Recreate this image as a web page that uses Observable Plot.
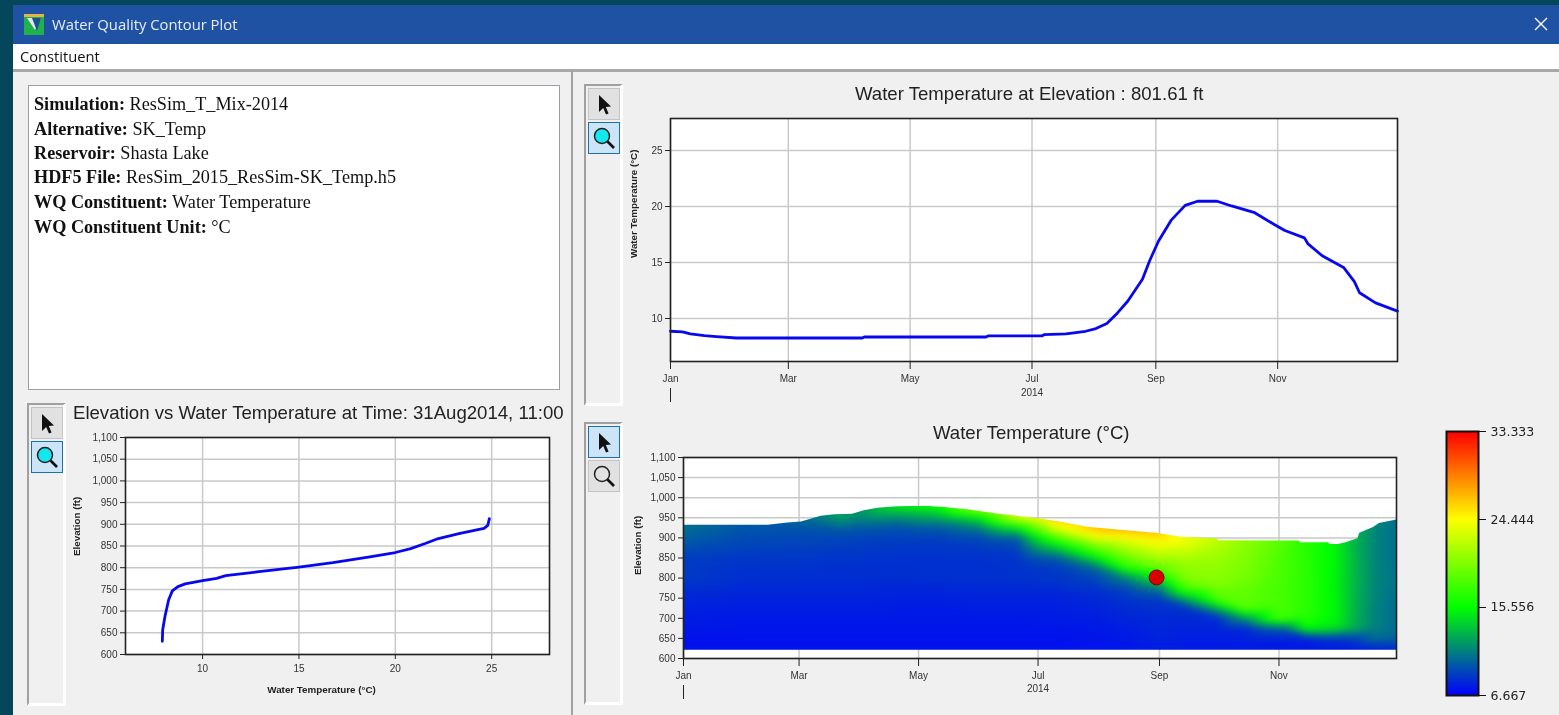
<!DOCTYPE html>
<html><head><meta charset="utf-8">
<script src="https://cdn.jsdelivr.net/npm/d3@7"></script>
<script src="https://cdn.jsdelivr.net/npm/@observablehq/plot@0.6"></script>
<style>
html,body{margin:0;padding:0;width:1559px;height:715px;overflow:hidden;background:#04475a}
.abs{position:absolute}
#page{filter:blur(0.4px)}
#titlebar{left:0;top:1px;width:1546px;height:39px;background:#2052a4;color:#e8eef8;font:14.8px "Open Sans",sans-serif;line-height:39px}
#menu{left:0;top:40px;width:1546px;height:25px;background:#fff;color:#111;font:14.7px "Open Sans",sans-serif;line-height:25px;border-bottom:2px solid #a8a8a8}
.info{left:28px;top:85px;width:530px;height:303px;background:#fff;border:1px solid #9a9fa6;font:18.2px "Liberation Serif",serif;color:#111;box-sizing:content-box}
.info div{position:absolute;left:5px;white-space:nowrap}
.tb{border:2px solid #a0a0a0;border-right:3px solid #fff;border-bottom:3px solid #fff;box-sizing:border-box;width:39px}
.btn{position:absolute;left:2px;width:32px;height:32px;box-sizing:border-box;background:#e1e1e1;border:1px solid #c4c4c4}
.btn.on{background:#cce4f7;border:1.5px solid #1f6fa8}
.btn svg{position:absolute;left:0;top:0}
.ttl{font:18.6px "Liberation Sans",sans-serif;color:#222;white-space:nowrap}
.chart{position:absolute}
</style></head><body>
<div id="page" class="abs" style="left:0;top:0;width:1559px;height:715px">
  <div class="abs" style="left:13px;top:5px;width:1546px;height:710px;background:#f0f0f0"></div>
  <div id="titlebar" class="abs" style="left:13px;top:5px"><span class="abs" style="left:39px;top:0">Water Quality Contour Plot</span>
    <svg class="abs" style="left:11px;top:9px" width="20" height="21"><rect y="3" width="20" height="18" fill="#1fb14a"/><rect width="20" height="3" fill="#e9b14a"/><path d="M3 4L17 4L11 16Z" fill="#dfe6ee"/><path d="M8 4L17 4L13 17Z" fill="#1c4f8f"/></svg>
    <svg class="abs" style="left:1521px;top:12px" width="14" height="14"><path d="M1 1L13 13M13 1L1 13" stroke="#fff" stroke-width="1.4"/></svg>
  </div>
  <div id="menu" class="abs" style="left:13px;top:44px"><span class="abs" style="left:7px">Constituent</span></div>
  <div class="abs" style="left:13px;top:71px;width:1546px;height:1px;background:#a8a8a8"></div>
  <div class="abs" style="left:571px;top:71px;width:2px;height:644px;background:#a0a0a0"></div>
  <div class="abs info">
    <div style="top:8px"><b>Simulation:</b> ResSim_T_Mix-2014</div>
    <div style="top:33px"><b>Alternative:</b> SK_Temp</div>
    <div style="top:57px"><b>Reservoir:</b> Shasta Lake</div>
    <div style="top:81px"><b>HDF5 File:</b> ResSim_2015_ResSim-SK_Temp.h5</div>
    <div style="top:106px"><b>WQ Constituent:</b> Water Temperature</div>
    <div style="top:131px"><b>WQ Constituent Unit:</b> °C</div>
  </div>
  <div class="abs tb" id="tb1" style="left:27px;top:403px;height:303px"></div>
  <div class="abs tb" id="tb2" style="left:584px;top:84px;height:322px"></div>
  <div class="abs tb" id="tb3" style="left:584px;top:422px;height:283px"></div>
  <div class="abs ttl" style="left:73px;top:402px">Elevation vs Water Temperature at Time: 31Aug2014, 11:00</div>
  <div class="abs ttl" style="left:855px;top:83px">Water Temperature at Elevation : 801.61 ft</div>
  <div class="abs ttl" style="left:933px;top:422px">Water Temperature (°C)</div>
  <div class="chart" id="c1" style="left:70px;top:425px"></div>
  <div class="chart" id="c2" style="left:615px;top:105px"></div>
  <div class="chart" id="c3" style="left:625px;top:445px"></div>
  <div class="chart" id="c4" style="left:1430px;top:420px"></div>
</div>
<script>
// ---- Profile chart: elevation vs temperature on 31 Aug 2014
const profileTemp = [7.91,7.93,8.05,8.24,8.43,8.72,9.1,10,10.73,11.2,12.93,15,16.76,18.68,20,20.8,21.55,22.13,23.3,24.6,24.8,24.88];
const profileElev = [630.5,657,688,726,746.6,756.5,762.6,770,775.6,781.7,790.8,801.5,811.5,825,835,844,855.7,865.6,878.6,890.8,897.7,913];
const profileXTicks = [10,15,20,25];
const elevTicks = [600,650,700,750,800,850,900,950,1000,1050,1100];

// ---- Time series at 801.61 ft (day of 2014, temperature)
const seriesDay = [0,6,10,17,23,33,96,97,158,159,186,187,198,207.8,213,218.5,223.8,229,236.3,239.9,244.3,250.6,257.7,263.9,273.7,280.9,292.5,302.3,307.6,317.4,319.2,326.3,337,342.4,345,353,364];
const seriesTemp = [8.86,8.8,8.62,8.47,8.38,8.26,8.26,8.35,8.35,8.44,8.44,8.56,8.62,8.86,9.1,9.55,10.5,11.56,13.5,15.16,16.9,18.76,20.1,20.47,20.47,20.05,19.45,18.4,17.86,17.2,16.66,15.6,14.56,13.3,12.3,11.4,10.66];
const seriesYTicks = [10,15,20,25];
const monthTicks = ["2014-01-01","2014-03-01","2014-05-01","2014-07-01","2014-09-01","2014-11-01"];
const monthLabels = ["Jan","Mar","May","Jul","Sep","Nov"];

// ---- Contour field: water surface and temperature per elevation level
const surfaceDay  = [0,43,53,60,70,77,86,92,99,109,123,133,145,160,181,192,206,223,242,254,272,273,314,315,329,330,334,338,344,345,352,355,364];
const surfaceElev = [933,933,938,941,955,959,960,969,975,979,980,977,971,961,949,941,928,920,912.5,903,899,894,893.5,889,889,885,885,889,899,913,927,937,946];
const floorElev = 622;
const levels = [1000,975,950,925,900,875,850,825,800,775,750,725,700,675,650,622];
const fieldDays = [0,31,59,80,90,110,130,151,170,190,211,226,243,257,273,287,304,318,334,343,353,364];
const tJan01 = [10.8,10.8,10.8,10.5,10,9.4,8.8,8.7,8.7,8.3,8,7.8,7.6,7.5,7.3,7.2];
const tFeb01 = [9.8,9.8,9.8,9.7,9.3,9,8.6,8.4,8.3,8.1,7.9,7.7,7.5,7.4,7.3,7.2];
const tMar01 = [10.5,10.5,10.5,9.6,9.2,8.9,8.6,8.4,8.26,8.1,7.9,7.7,7.5,7.4,7.3,7.2];
const tMar22 = [12.5,12.5,12.2,10,9.1,8.8,8.5,8.3,8.26,8.1,7.9,7.7,7.5,7.4,7.3,7.2];
const tApr01 = [12,12,11.5,9.8,9,8.7,8.5,8.3,8.26,8.1,7.9,7.7,7.5,7.4,7.3,7.2];
const tApr20 = [15,14.6,11.5,9.5,8.9,8.6,8.4,8.3,8.26,8,7.8,7.6,7.5,7.4,7.3,7.2];
const tMay10 = [16,15.5,12.5,9.8,8.9,8.6,8.4,8.35,8.35,8,7.8,7.6,7.5,7.4,7.3,7.2];
const tJun01 = [21,20.8,15,11,9.2,8.7,8.4,8.35,8.35,8.1,7.9,7.7,7.5,7.4,7.3,7.2];
const tJun20 = [24,24,22.5,15,10,8.9,8.5,8.4,8.44,8.1,7.9,7.7,7.5,7.4,7.3,7.2];
const tJul10 = [26.5,26.5,26.5,23.5,18,13.5,9.8,8.7,8.56,8.2,7.9,7.7,7.6,7.4,7.3,7.2];
const tJul31 = [27,27,27,26.8,23.5,19,15,10.5,9.1,8.5,8.1,7.9,7.7,7.5,7.4,7.3];
const tAug15 = [27.2,27.2,27.2,27.2,24.2,21.5,19.2,16.5,11.2,9.2,8.5,8.2,8,7.7,7.5,7.4];
const tSep01 = [27,27,27,27,25.2,23.3,21.4,19,15.2,11,8.8,8.4,8.1,8,7.9,7.5];
const tSep15 = [24,24,24,24,24,23,21.5,20.5,20.1,18,13,8.5,8.1,7.9,7.7,7.5];
const tOct01 = [22.2,22.2,22.2,22.2,22.2,21.5,21,20.5,20.4,19.5,18.5,13,8.2,7.9,7.7,7.5];
const tOct15 = [20.5,20.5,20.5,20.5,20.5,20.2,20,19.8,19.6,19,18.8,18.5,12,8,7.8,7.5];
const tNov01 = [18.7,18.7,18.7,18.7,18.7,18.5,18.3,18.2,18.1,18,18,18,18,10,7.8,7.5];
const tNov15 = [16.8,16.8,16.8,16.8,16.8,16.8,16.9,17,17,17,17,17,16.8,15.5,7.8,7.4];
const tDec01 = [15,15,15,15,15,15,15,15,14.9,14.9,15,15,15,14.5,8.5,7.4];
const tDec10 = [12.9,12.9,12.9,12.9,12.9,12.9,13,13,13.1,13,12.9,12.9,12.8,12.8,9,7.5];
const tDec20 = [11.3,11.3,11.3,11.3,11.3,11.3,11.3,11.3,11.3,11.3,11.3,11.2,11.2,11.2,10.5,7.6];
const tDec31 = [10.6,10.6,10.6,10.6,10.5,10.5,10.5,10.6,10.7,10.6,10.5,10.5,10.5,10.4,10.2,8];
const fieldColumns = [tJan01,tFeb01,tMar01,tMar22,tApr01,tApr20,tMay10,tJun01,tJun20,tJul10,tJul31,tAug15,tSep01,tSep15,tOct01,tOct15,tNov01,tNov15,tDec01,tDec10,tDec20,tDec31];
const markerDay = 241.5, markerElev = 801.61;

// ---- Colour legend
const legendTicks = [6.667,15.556,24.444,33.333];
const legendColors = ["#0000ff","#00ff00","#ffff00","#ff0000"];

// ---- Labels
const yearLabel = "2014";
const tempLabel = "Water Temperature (°C)";
const elevLabel = "Elevation (ft)";

// ---- helpers
const day = d => d3.utcDay.offset(new Date(Date.UTC(2014,0,1)), Math.floor(d)).getTime() + (d%1)*864e5;
const months = monthTicks.map(s => new Date(s));
const timeDomain = [new Date("2014-01-01"), new Date("2014-12-31")];
const ink = "#333", frameInk = "#222", gridInk = "#c9c9c9", lineInk = "#0808f0";
const fontTick = "Liberation Sans";
const gridOpts = {stroke:gridInk, strokeOpacity:1, strokeWidth:1.5};
const axisOpts = {stroke:frameInk, color:ink, fontSize:10, tickSize:5, tickPadding:3, label:null};
const fr = () => Plot.frame({stroke:frameInk, strokeWidth:1.6});
const bg = () => Plot.frame({fill:"#fff"});
const yTitle = (t,dx,dy) => Plot.text([t],{text:d=>d,frameAnchor:"left",dx,dy,rotate:-90,fontSize:9.8,fontWeight:"bold",fill:"#222"});
const monthAxis = (yearDy) => [
  Plot.axisX(months,{anchor:"bottom",...axisOpts,tickSize:8,tickPadding:5,tickFormat:(d,i)=>monthLabels[i]}),
  Plot.axisX([months[0]],{anchor:"bottom",stroke:frameInk,tickSize:14,tickFormat:()=>"",dy:27,label:null}),
  Plot.text([yearLabel],{x:()=>months[3],text:d=>d,frameAnchor:"bottom",dy:yearDy,fontSize:10,fill:ink})
];
const style = {background:"transparent",fontFamily:fontTick,overflow:"visible"};

// ---- chart 1
document.getElementById("c1").append(Plot.plot({
  width:500,height:285,marginLeft:55,marginRight:21,marginTop:12,marginBottom:56,style,
  x:{domain:[6,28]},y:{domain:[600,1100]},
  marks:[
    bg(),
    Plot.gridX(profileXTicks,gridOpts),Plot.gridY(elevTicks,gridOpts),
    Plot.line(profileTemp.map((t,i)=>({t,e:profileElev[i]})),{x:"t",y:"e",stroke:lineInk,strokeWidth:2.8}),
    fr(),
    Plot.axisX(profileXTicks,{...axisOpts,anchor:"bottom",tickSize:5,tickPadding:5}),
    Plot.axisY(elevTicks,{...axisOpts,anchor:"left",tickFormat:d3.format(",")}),
    Plot.text([tempLabel],{text:d=>d,frameAnchor:"bottom",dx:-16,dy:38,fontSize:9.8,fontWeight:"bold",fill:"#222"}),
    yTitle(elevLabel,-49,10)
  ]}));

// ---- chart 2
document.getElementById("c2").append(Plot.plot({
  width:800,height:305,marginLeft:55,marginRight:18,marginTop:13,marginBottom:49,style,
  x:{type:"utc",domain:timeDomain},y:{domain:[6.16,27.86]},
  marks:[
    bg(),
    Plot.gridX(months,gridOpts),Plot.gridY(seriesYTicks,gridOpts),
    Plot.line(seriesDay.map((d,i)=>({d:new Date(day(d)),t:seriesTemp[i]})),{x:"d",y:"t",stroke:lineInk,strokeWidth:2.8}),
    fr(),
    ...monthAxis(34),
    Plot.axisY(seriesYTicks,{...axisOpts,anchor:"left"}),
    yTitle(tempLabel,-37,18)
  ]}));

// ---- chart 3
const fieldPoints = fieldDays.flatMap((d,c)=>levels.map((e,r)=>({d:new Date(day(d)),e,t:fieldColumns[c][r]})));
const surfacePoly = surfaceDay.map((d,i)=>[new Date(day(d)),surfaceElev[i]]);
const colorScale = {type:"linear",domain:legendTicks,range:legendColors,clamp:true};
function clipToWater(index,scales,values,dims,ctx,next){
  const g = next(index,scales,values,dims,ctx);
  const pts = surfacePoly.map(([d,e])=>[scales.x(d),scales.y(e)]);
  pts.push([scales.x(timeDomain[1]),scales.y(floorElev)],[scales.x(timeDomain[0]),scales.y(floorElev)]);
  const ns = "http://www.w3.org/2000/svg";
  const cp = document.createElementNS(ns,"clipPath"); cp.setAttribute("id","water");
  const poly = document.createElementNS(ns,"polygon"); poly.setAttribute("points",pts.map(p=>p.join(",")).join(" "));
  cp.append(poly); g.append(cp); g.setAttribute("clip-path","url(#water)");
  return g;
}
document.getElementById("c3").append(Plot.plot({
  width:790,height:262,marginLeft:58,marginRight:19,marginTop:12,marginBottom:49,style,
  x:{type:"utc",domain:timeDomain},y:{domain:[600,1100]},color:colorScale,
  marks:[
    bg(),
    Plot.gridX(months,gridOpts),Plot.gridY(elevTicks,gridOpts),
    Plot.raster(fieldPoints,{x:"d",y:"e",fill:"t",interpolate:"barycentric",blur:3,pixelSize:1,render:clipToWater}),
    Plot.dot([{d:new Date(day(markerDay)),e:markerElev}],{x:"d",y:"e",r:7.5,fill:"#d80000",stroke:"#7c0000",strokeWidth:1}),
    fr(),
    ...monthAxis(33),
    Plot.axisY(elevTicks,{...axisOpts,anchor:"left",tickFormat:d3.format(",")}),
    yTitle(elevLabel,-46,17)
  ]}));

// ---- legend
document.getElementById("c4").append(Plot.plot({
  width:125,height:285,marginLeft:16,marginRight:77,marginTop:11,marginBottom:10,style,
  x:{domain:[0,1],axis:null},y:{domain:[legendTicks[0],legendTicks[3]]},color:colorScale,
  marks:[
    Plot.raster({fill:(x,y)=>y,x1:0,x2:1,y1:legendTicks[0],y2:legendTicks[3],pixelSize:1}),
    Plot.frame({stroke:"#111",strokeWidth:2}),
    Plot.axisY(legendTicks,{anchor:"right",stroke:"#111",color:"#222",fontSize:12.5,fontFamily:"DejaVu Sans",tickSize:7,tickPadding:5,label:null,tickFormat:d3.format(".3f")})
  ]}));

// ---- toolbar buttons
const arrow = `<svg width="30" height="30"><path d="M10 6L10 23L14.2 19L17 25.5L19.6 24.4L16.8 18L22 17.6Z" fill="#111"/></svg>`;
const lens = c => `<svg width="30" height="30"><line x1="18" y1="18" x2="25" y2="25" stroke="#111" stroke-width="2.6"/><circle cx="13" cy="13" r="7.5" fill="${c}" stroke="#222" stroke-width="1.5"/></svg>`;
function btns(id,aOn){
  document.getElementById(id).innerHTML =
    `<div class="btn ${aOn?"on":""}" style="top:2px">${arrow}</div><div class="btn ${aOn?"":"on"}" style="top:36px">${lens(aOn?"none":"#12e8ee")}</div>`;
}
btns("tb1",false);btns("tb2",false);btns("tb3",true);
</script>
</body></html>
